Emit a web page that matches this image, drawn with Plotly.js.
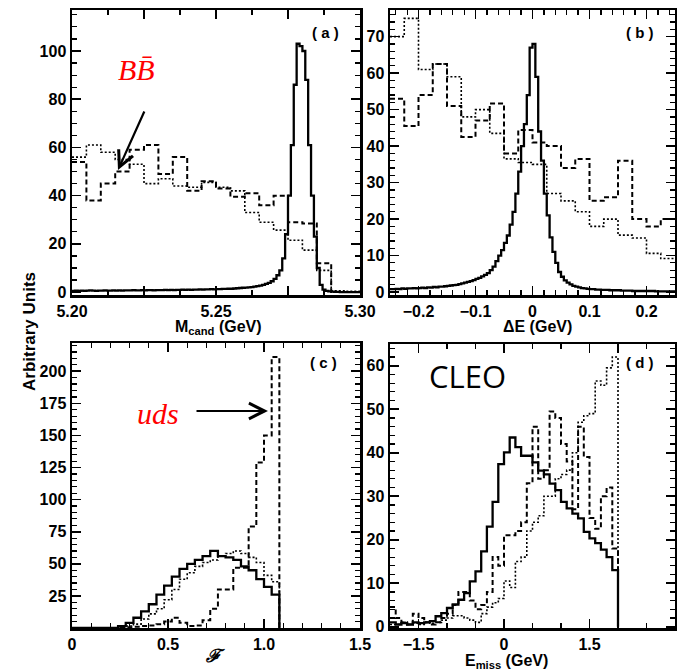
<!DOCTYPE html>
<html><head><meta charset="utf-8">
<script src="https://cdn.plot.ly/plotly-3.0.1.min.js"></script>
<style>body{margin:0;background:#fff}#chart{width:677px;height:670px}</style>
</head><body><div id="chart"></div>
<script>
// ---------- Panel (a): M_cand ----------
const aFineStart = 5.200, aFineWidth = 0.001;
const aSolid = [
 0.5,0.6,0.5,0.6,0.5,0.6,0.7,0.6,0.5,0.6,
 0.6,0.7,0.6,0.6,0.7,0.6,0.7,0.6,0.7,0.7,
 0.7,0.8,0.7,0.7,0.8,0.7,0.8,0.8,0.7,0.8,
 0.8,0.8,0.9,0.8,0.9,0.8,0.9,0.9,1.0,0.9,
 1.0,0.9,1.0,1.0,1.1,1.0,1.1,1.1,1.2,1.1,
 1.2,1.2,1.3,1.3,1.4,1.4,1.5,1.6,1.7,1.8,
 1.9,2.0,2.1,2.3,2.5,2.7,3.0,3.4,3.8,4.5,
 5.5,7,9,14,24,40,61,86,103,102,
 100,88,61,40,23,10,3,1,0.5,0.3,
 0.2,0.1,0.1,0,0,0,0,0,0,0];
const aCoarseStart = 5.200, aCoarseWidth = 0.005;
const aDashed = [54,38,45,50,59,61,49,56,42,46,43,39.5,41,36,40,29,28.5,12,0,0];
const aDotted = [56,61,58,55,53,45,47,44,43.5,45.5,43.5,42,33,29,25.7,21.5,17.4,9,0.5,0.3];
const aXTicks = [5.2,5.225,5.25,5.275,5.3];
const aXText = ["5.20","","5.25","","5.30"];
const aYTicks = [0,20,40,60,80,100];
const aYText = ["0","20","40","60","80","100"];

// ---------- Panel (b): Delta E ----------
const bFineStart = -0.25, bFineWidth = 0.005;
const bSolid = [
 0.8,0.8,0.9,0.8,1.0,0.9,1.0,1.0,1.1,1.0,
 1.1,1.2,1.1,1.3,1.2,1.4,1.3,1.5,1.5,1.6,
 1.7,1.8,1.9,2.0,2.2,2.4,2.6,2.8,3.0,3.3,
 3.6,3.9,4.3,4.7,5.2,6.0,7.0,8.5,10.0,11.5,
 13.5,15.5,18.5,22,27,33,40,46,54,67,
 68,59,44,36,27,21,15,11,8,5.5,
 4.2,3.2,2.6,2.1,1.7,1.5,1.3,1.1,1.0,0.9,
 0.8,0.8,0.7,0.7,0.6,0.6,0.6,0.5,0.5,0.5,
 0.5,0.4,0.4,0.4,0.4,0.3,0.3,0.3,0.3,0.3,
 0.3,0.3,0.3,0.2,0.2,0.2,0.2,0.2,0.2,0.2];
const bCoarseStart = -0.25, bCoarseWidth = 0.025;
const bDashed = [53,45.5,54,62.5,51,42.5,47,51.7,38,44.4,41,40,34,36.5,25,26,36,20,18,20];
const bDotted = [70,75,61,62.5,59,48,50,43.5,36.5,35.5,35,27,25,22,18,20,15.6,14.8,10.6,9.2];
const bXTicks = [-0.2,-0.1,0,0.1,0.2];
const bXText = ["\u22120.2","\u22120.1","0","0.1","0.2"];
const bYTicks = [0,10,20,30,40,50,60,70];
const bYText = ["0","10","20","30","40","50","60","70"];

// ---------- Panel (c): Fisher ----------
const cStart = 0, cWidth = 0.04;
const cSolid  = [0,0,0,0,0,0,1.5,4,8,13,18.5,26,33,40,46,50,53,56,60,56,55,53,48,45,38,32,26];
const cDotted = [0,0,0,0,0,0,0.5,1.5,3,7,11,15,22,30,38,43,48,51,53,56,58,60,58,55,51,41,36];
const cDashed = [0,0,0,0,0,0,0,0.5,1,1.5,2,3,5,8,4,1.5,2,6,15,30,30,47,47,79,129,150,211];
const cXTicks = [0,0.5,1.0,1.5];
const cXText = ["0","0.5","1.0","1.5"];
const cYTicks = [25,50,75,100,125,150,175,200];
const cYText = ["25","50","75","100","125","150","175","200"];

// ---------- Panel (d): E_miss ----------
const dStart = -2, dWidth = 0.1;
const dSolid = [1.0,0.5,0.8,0.5,1.0,0.8,1.0,1.3,2.4,3.1,4.3,5.1,6.2,7.7,10.4,12.7,17.3,23,28.7,37.4,
 40.1,43.5,41.3,39.3,39.3,37.8,35.9,35,32.9,31.4,28.7,27.2,26,24.9,21.8,20.3,19.2,17.7,16,13];
const dDashed = [4.5,2,1,0.5,3,2,1,0.5,1,2,3,5,8,8,6,4,5,8,16,14,
 21,21,22,24,33,46,34,36,49.5,48,42,38,27,46,39,25,22.5,30,32,18];
const dDotted = [0.5,0.5,1,0.5,0.8,0.5,1,0.8,1,1.5,2,2.5,2.5,2,1.5,1,3,4.5,5.5,6.5,
 10.5,9,15,16,22,24,25.5,30,30,34,35,36,40,47,48.5,49,56.5,55.5,59.5,62];
const dXTicks = [-1.5,0,1.5,2];
const dXText = ["\u22121.5","0","1.5",""];
const dYTicks = [0,10,20,30,40,50,60];
const dYText = ["0","10","20","30","40","50","60"];

// ---------- helpers ----------
function stepXY(start, width, vals, closeEnd){
  const xs=[], ys=[];
  for(let i=0;i<vals.length;i++){ xs.push(start+i*width); ys.push(vals[i]); }
  const end = start+vals.length*width;
  xs.push(end); ys.push(vals[vals.length-1]);
  if(closeEnd){ xs.push(end); ys.push(0); }
  return {x:xs, y:ys};
}
const STY = {
  solid: {color:'#000', width:2.3, dash:'solid'},
  dashed:{color:'#000', width:2.0, dash:'5px,3px'},
  dotted:{color:'#000', width:1.6, dash:'2px,2px'}
};
function tr(start,width,vals,style,xa,ya,closeEnd){
  const s = stepXY(start,width,vals,closeEnd);
  return {x:s.x, y:s.y, type:'scatter', mode:'lines', line:Object.assign({shape:'hv'},STY[style]),
          xaxis:xa, yaxis:ya, showlegend:false, hoverinfo:'skip', cliponaxis:true};
}
const traces = [
  tr(aCoarseStart,aCoarseWidth,aDotted,'dotted','x','y',false),
  tr(aCoarseStart,aCoarseWidth,aDashed,'dashed','x','y',false),
  tr(aFineStart,aFineWidth,aSolid,'solid','x','y',false),
  tr(bCoarseStart,bCoarseWidth,bDotted,'dotted','x2','y2',false),
  tr(bCoarseStart,bCoarseWidth,bDashed,'dashed','x2','y2',false),
  tr(bFineStart,bFineWidth,bSolid,'solid','x2','y2',false),
  tr(cStart,cWidth,cDotted,'dotted','x3','y3',true),
  tr(cStart,cWidth,cDashed,'dashed','x3','y3',true),
  tr(cStart,cWidth,cSolid,'solid','x3','y3',true),
  tr(dStart,dWidth,dDotted,'dotted','x4','y4',true),
  tr(dStart,dWidth,dDashed,'dashed','x4','y4',true),
  tr(dStart,dWidth,dSolid,'solid','x4','y4',true)
];

const W=677, H=670;
const px = v => v/W, py = v => 1 - v/H;
const FAM = 'Liberation Sans, Arial, sans-serif';
const TICKFONT = {family:FAM, size:16, color:'#000'};
const bold = arr => arr.map(t => t ? '<b>'+t+'</b>' : '');
function ax(domain, range, anchor, tickvals, ticktext, minorDtick, minorTick0){
  return {domain:domain, range:range, anchor:anchor, showline:true, linecolor:'#000', linewidth:2.5,
    mirror:'allticks', ticks:'inside', ticklen:9, tickwidth:1.6, tickcolor:'#000',
    showgrid:false, zeroline:false, tickfont:TICKFONT, fixedrange:true,
    tickmode:'array', tickvals:tickvals, ticktext:bold(ticktext), ticklabelstandoff:0,
    minor:{ticks:'inside', ticklen:5, tickwidth:1.2, tickcolor:'#000', dtick:minorDtick, tick0:minorTick0, showgrid:false}};
}
const dxA=[px(72),px(360)], dxB=[px(390),px(675)];
const dyTop=[py(295),py(10)], dyBot=[py(628),py(343)];

function note(text, x, y, font, extra){
  return Object.assign({text:text, x:px(x), y:py(y), xref:'paper', yref:'paper', showarrow:false,
    xanchor:'center', yanchor:'middle', font:font}, extra||{});
}
const LBL = {family:FAM, size:15, color:'#000'};
const TTL = {family:FAM, size:16, color:'#000'};
const RED = {family:'Liberation Serif, serif', size:30, color:'#ff0000', style:'italic'};

const layout = {
  width:W, height:H, margin:{l:0,r:0,t:0,b:0}, paper_bgcolor:'#fff', plot_bgcolor:'rgba(0,0,0,0)',
  showlegend:false,
  xaxis:  ax(dxA,[5.2,5.3],'y', aXTicks,aXText,0.0125,5.2),
  yaxis:  ax(dyTop,[-1.2,117],'x', aYTicks,aYText,5,0),
  xaxis2: ax(dxB,[-0.25,0.25],'y2', bXTicks,bXText,0.02,0),
  yaxis2: ax(dyTop,[-0.8,77.3],'x2', bYTicks,bYText,2,0),
  xaxis3: ax(dxA,[0,1.5],'y3', cXTicks,cXText,0.1,0),
  yaxis3: ax(dyBot,[0,222],'x3', cYTicks,cYText,5,0),
  xaxis4: ax(dxB,[-2,3],'y4', dXTicks,dXText,0.5,0),
  yaxis4: ax([py(628),py(344)],[-0.3,65],'x4', dYTicks,dYText,2,0),
  annotations: [
    note('<b>( a )</b>', 325, 32, LBL),
    note('<b>( b )</b>', 640, 32, LBL),
    note('<b>( c )</b>', 323, 362, LBL),
    note('<b>( d )</b>', 640, 362, LBL),
    note('BB\u0304', 136, 70, RED),
    {text:'', x:px(118), y:py(170), xref:'paper', yref:'paper', showarrow:true, ax:27, ay:-60, axref:'pixel', ayref:'pixel', arrowhead:5, arrowsize:1.4, arrowwidth:2.2, arrowcolor:'#000'},
    note('uds', 158, 413, RED),
    {text:'', x:px(268), y:py(411), xref:'paper', yref:'paper', showarrow:true, ax:-73, ay:0, axref:'pixel', ayref:'pixel', arrowhead:5, arrowsize:1.4, arrowwidth:2.2, arrowcolor:'#000'},
    note('CLEO', 468, 376, {family:'Open Sans, Noto Sans, sans-serif', size:31, color:'#000'}),
    note('<b>M<sub>cand</sub> (GeV)</b>', 218, 316, TTL, {yanchor:'top'}),
    note('<b>\u0394E (GeV)</b>', 537, 316, TTL, {yanchor:'top'}),
    note('<b><i>\u2131</i></b>', 215, 656, {family:'Liberation Serif, DejaVu Serif, serif', size:18, color:'#000'}),
    note('<b>E<sub>miss</sub> (GeV)</b>', 506, 650, TTL, {yanchor:'top'}),
    note('<b>Arbitrary Units</b>', 29, 332, {family:FAM, size:17, color:'#000'}, {textangle:-90})
  ]
};
Plotly.newPlot('chart', traces, layout, {staticPlot:true, displayModeBar:false});
</script></body></html>
